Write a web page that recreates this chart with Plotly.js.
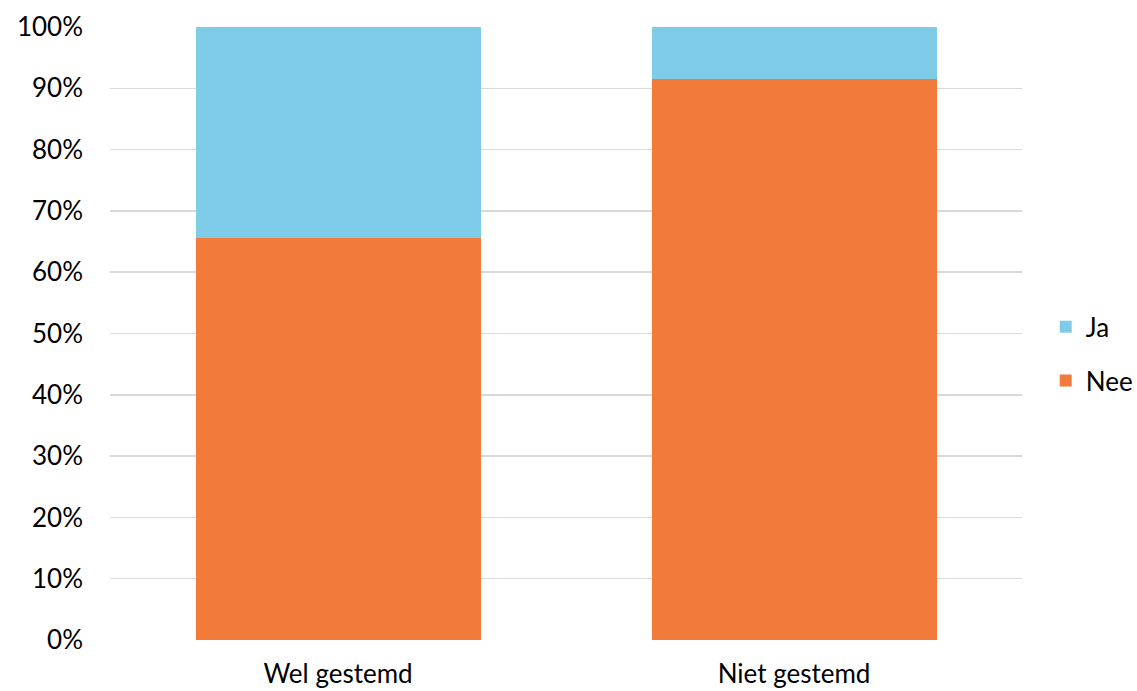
<!DOCTYPE html>
<html>
<head>
<meta charset="utf-8">
<script src="https://cdn.plot.ly/plotly-3.0.1.min.js"></script>
<style>html,body{margin:0;padding:0;background:#fff;}#chart{width:1137px;height:691px;}</style>
</head>
<body>
<div id="chart"></div>
<script>
var categories = ["Wel gestemd", "Niet gestemd"];
var nee = [0.656, 0.915];
var ja = [0.344, 0.085];
var yTickVals = [0, 0.1, 0.2, 0.3, 0.4, 0.5, 0.6, 0.7, 0.8, 0.9, 1.0];
var yTickText = ["0%", "10%", "20%", "30%", "40%", "50%", "60%", "70%", "80%", "90%", "100%"];

var font = {family: "Lato, 'Open Sans', sans-serif", size: 26, color: "#000"};

var traces = [
  {type: "bar", name: "Nee", legendgroup: "nee", legendrank: 2, x: categories, y: nee, marker: {color: "#F27A3B"}, hoverinfo: "none"},
  {type: "bar", name: "Ja", legendgroup: "ja", legendrank: 1, x: categories, y: ja, marker: {color: "#7ECCE7"}, hoverinfo: "none"}
];

var layout = {
  width: 1137, height: 691,
  barmode: "stack",
  bargap: 0.375,
  margin: {l: 110, r: 115, t: 27, b: 51, pad: 0, autoexpand: false},
  paper_bgcolor: "#fff", plot_bgcolor: "#fff",
  font: font,
  showlegend: true,
  legend: {
    x: 1.026, y: 0.467, xanchor: "left", yanchor: "middle",
    traceorder: "grouped", font: font, itemsizing: "constant",
    tracegroupgap: 17, itemwidth: 30
  },
  xaxis: {
    type: "category", showgrid: false, zeroline: false, showline: false,
    ticks: "", tickfont: font, ticklabelstandoff: 16
  },
  yaxis: {
    range: [0, 1], tickvals: yTickVals, ticktext: yTickText,
    showgrid: true, gridcolor: "#d9d9d9", gridwidth: 1.5,
    zeroline: false, showline: false, ticks: "", tickfont: font,
    ticklabelstandoff: 26
  }
};

Plotly.newPlot("chart", traces, layout, {displayModeBar: false, staticPlot: true});
</script>
</body>
</html>
